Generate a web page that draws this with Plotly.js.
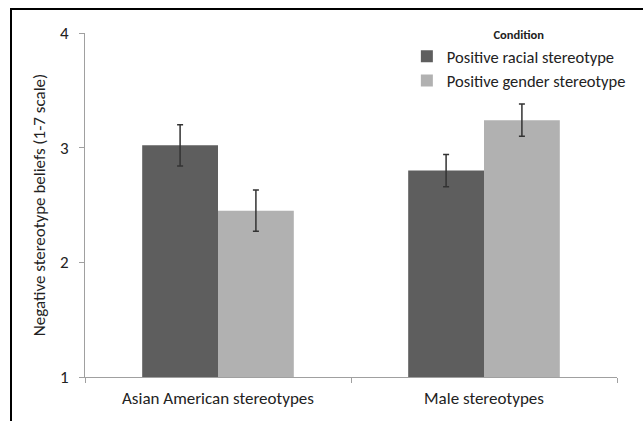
<!DOCTYPE html>
<html>
<head>
<meta charset="utf-8">
<script src="https://cdn.plot.ly/plotly-3.0.1.min.js"></script>
<style>
  html, body { margin: 0; padding: 0; background: #fff; }
  #chart { width: 643px; height: 421px; }
  #frame { position: absolute; left: 10px; top: 8px; width: 640px; height: 420px;
           border-left: 2px solid #000; border-top: 2px solid #000; pointer-events: none; }
</style>
</head>
<body>
<div id="chart"></div>
<div id="frame"></div>
<script>
const categories = ["Asian American stereotypes", "Male stereotypes"];
const racialValues = [3.02, 2.80];
const racialErrors = [0.18, 0.14];
const genderValues = [2.45, 3.24];
const genderErrors = [0.18, 0.14];
const seriesNames = ["Positive racial stereotype", "Positive gender stereotype"];
const yTicks = [1, 2, 3, 4];

const FONT = "Carlito, Lato, 'Open Sans', sans-serif";

const traces = [
  {
    type: "bar", name: seriesNames[0], x: categories, y: racialValues,
    marker: { color: "#5e5e5e" },
    error_y: { type: "data", array: racialErrors, visible: true, color: "#333", thickness: 1.5, width: 3 }
  },
  {
    type: "bar", name: seriesNames[1], x: categories, y: genderValues,
    marker: { color: "#b1b1b1" },
    error_y: { type: "data", array: genderErrors, visible: true, color: "#333", thickness: 1.5, width: 3 }
  }
];

const layout = {
  width: 643, height: 421,
  margin: { l: 85, r: 26, t: 33, b: 44 },
  paper_bgcolor: "#fff", plot_bgcolor: "#fff",
  font: { family: FONT, size: 16, color: "#222" },
  barmode: "group",
  bargap: 0.43, bargroupgap: 0,
  showlegend: true,
  legend: {
    x: 0.605, y: 1.03, xanchor: "left", yanchor: "top",
    bgcolor: "rgba(0,0,0,0)",
    font: { family: FONT, size: 16.5, color: "#222" },
    title: { text: "<b>Condition</b>", side: "top center", font: { family: FONT, size: 12.5, color: "#222" } },
    tracegroupgap: 0
  },
  xaxis: {
    type: "category",
    showline: true, linecolor: "#a0a0a0", linewidth: 1,
    ticks: "outside", tickson: "boundaries", ticklen: 5, tickcolor: "#a0a0a0",
    showgrid: false, zeroline: false,
    ticklabelstandoff: 6,
    tickfont: { family: FONT, size: 17, color: "#222" }
  },
  yaxis: {
    range: [1, 4], tickvals: yTicks, ticktext: yTicks.map(String),
    showline: true, linecolor: "#a0a0a0", linewidth: 1,
    ticks: "outside", ticklen: 5, tickcolor: "#a0a0a0",
    showgrid: false, zeroline: false,
    ticklabelstandoff: 7,
    tickfont: { family: FONT, size: 17, color: "#222" },
    title: { text: "Negative stereotype beliefs (1-7 scale)", font: { family: FONT, size: 17, color: "#222" }, standoff: 10 }
  }
};

Plotly.newPlot("chart", traces, layout, { displayModeBar: false, staticPlot: true });
</script>
</body>
</html>
